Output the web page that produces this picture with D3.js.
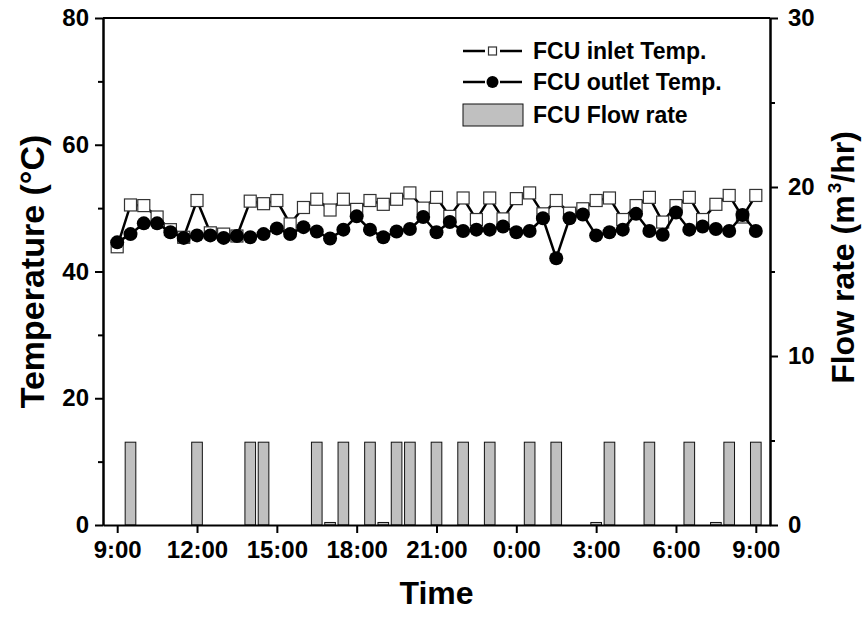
<!DOCTYPE html>
<html>
<head>
<meta charset="utf-8">
<script src="https://cdn.jsdelivr.net/npm/d3@7"></script>
<style>
  body { margin: 0; background: #fff; }
  text { font-family: "Liberation Sans", Arial, sans-serif; font-weight: bold; }
</style>
</head>
<body>
<div id="chart"></div>
<script>
// sampled every 30 min, 9:00 -> 9:00 next day
const times = ["9:00","9:30","10:00","10:30","11:00","11:30","12:00","12:30","13:00","13:30",
  "14:00","14:30","15:00","15:30","16:00","16:30","17:00","17:30","18:00","18:30",
  "19:00","19:30","20:00","20:30","21:00","21:30","22:00","22:30","23:00","23:30",
  "0:00","0:30","1:00","1:30","2:00","2:30","3:00","3:30","4:00","4:30",
  "5:00","5:30","6:00","6:30","7:00","7:30","8:00","8:30","9:00"];

const inletTemp = [43.9, 50.5, 50.4, 48.6, 46.6, 45.4, 51.2, 46.1, 45.9, 45.6,
  51.1, 50.7, 51.2, 47.5, 50.1, 51.4, 49.7, 51.4, 49.8, 51.2,
  50.6, 51.4, 52.4, 50.0, 51.7, 48.7, 51.6, 48.2, 51.6, 48.3,
  51.5, 52.4, 49.1, 51.2, 49.2, 49.9, 51.2, 51.6, 48.2, 50.4,
  51.7, 47.8, 50.4, 51.7, 48.2, 50.6, 52.0, 48.6, 52.0];

const outletTemp = [44.6, 45.9, 47.6, 47.6, 46.2, 45.3, 45.7, 45.7, 45.3, 45.6,
  45.4, 45.9, 46.8, 45.9, 47.0, 46.3, 45.2, 46.6, 48.7, 46.6,
  45.4, 46.3, 46.7, 48.6, 46.2, 47.8, 46.4, 46.6, 46.6, 47.1,
  46.2, 46.4, 48.4, 42.1, 48.4, 49.0, 45.7, 46.2, 46.6, 49.1,
  46.4, 45.8, 49.3, 46.6, 47.1, 46.7, 46.4, 48.9, 46.4];

const flowRate = [0, 4.9, 0, 0, 0, 0, 4.9, 0, 0, 0,
  4.9, 4.9, 0, 0, 0, 4.9, 0.15, 4.9, 0, 4.9,
  0.15, 4.9, 4.9, 0, 4.9, 0, 4.9, 0, 4.9, 0,
  0, 4.9, 0, 4.9, 0, 0, 0.15, 4.9, 0, 0,
  4.9, 0, 0, 4.9, 0, 0.15, 4.9, 0, 4.9];

const seriesNames = ["FCU inlet Temp.", "FCU outlet Temp.", "FCU Flow rate"];

const W = 862, H = 623;
const margin = { top: 18, right: 92, bottom: 98, left: 103 };
const innerW = W - margin.left - margin.right,
      innerH = H - margin.top - margin.bottom;

// turn "H:MM" strings into dates, rolling over midnight
let day = 0, prev = -1;
const data = times.map((t, i) => {
  const [h, m] = t.split(":").map(Number);
  const mins = h * 60 + m;
  if (mins <= prev) day++;
  prev = mins;
  return { date: new Date(2000, 0, 1 + day, h, m), inlet: inletTemp[i], outlet: outletTemp[i], flow: flowRate[i] };
});

const svg = d3.select("#chart").append("svg")
  .attr("width", W).attr("height", H)
  .append("g")
  .attr("transform", `translate(${margin.left},${margin.top})`);

const first = data[0].date, last = data[data.length - 1].date;
const x = d3.scaleTime()
  .domain([d3.timeMinute.offset(first, -32), d3.timeMinute.offset(last, 32)])
  .range([0, innerW]);
const y = d3.scaleLinear().domain([0, 80]).range([innerH, 0]);
const y2 = d3.scaleLinear().domain([0, 30]).range([innerH, 0]);

// bars (behind lines)
const barW = x(d3.timeMinute.offset(first, 24)) - x(first);
svg.selectAll(".bar")
  .data(data)
  .enter().append("rect")
  .attr("class", "bar")
  .attr("x", d => x(d.date) - barW / 2)
  .attr("y", d => y2(d.flow))
  .attr("width", barW)
  .attr("height", d => innerH - y2(d.flow))
  .attr("fill", "#c0c0c0")
  .attr("stroke", "#111")
  .attr("stroke-width", 1);

// axes
const tickFont = "24px";
const styleAxis = (g) => {
  g.select(".domain").attr("stroke", "#000").attr("stroke-width", 2);
  g.selectAll(".tick line").attr("stroke", "#000").attr("stroke-width", 2);
  g.selectAll(".tick text").style("font-size", tickFont).attr("fill", "#000");
};

svg.append("g")
  .attr("transform", `translate(0,${innerH})`)
  .call(d3.axisBottom(x).ticks(d3.timeHour.every(3)).tickFormat(d3.timeFormat("%-H:%M"))
    .tickSize(8).tickSizeOuter(0).tickPadding(8))
  .call(styleAxis);

// left axis, minor ticks every 10
svg.append("g")
  .call(d3.axisLeft(y).tickValues(d3.range(10, 80, 20)).tickSize(5).tickSizeOuter(0).tickFormat(""))
  .call(styleAxis);
svg.append("g")
  .call(d3.axisLeft(y).tickValues(d3.range(0, 81, 20)).tickSize(8).tickSizeOuter(0).tickPadding(6))
  .call(styleAxis);

// right axis, minor every 5
svg.append("g")
  .attr("transform", `translate(${innerW},0)`)
  .call(d3.axisRight(y2).tickValues([5, 15, 25]).tickSize(5).tickSizeOuter(0).tickFormat(""))
  .call(styleAxis);
svg.append("g")
  .attr("transform", `translate(${innerW},0)`)
  .call(d3.axisRight(y2).tickValues([0, 10, 20, 30]).tickSize(8).tickSizeOuter(0).tickPadding(10))
  .call(styleAxis);

// top frame line
svg.append("line")
  .attr("x1", 0).attr("x2", innerW).attr("y1", 0).attr("y2", 0)
  .attr("stroke", "#000").attr("stroke-width", 2);

// temperature lines
const lineIn = d3.line().x(d => x(d.date)).y(d => y(d.inlet));
const lineOut = d3.line().x(d => x(d.date)).y(d => y(d.outlet));

svg.append("path").datum(data)
  .attr("d", lineIn).attr("fill", "none").attr("stroke", "#000").attr("stroke-width", 2.5);
svg.selectAll(".sq")
  .data(data)
  .enter().append("rect")
  .attr("class", "sq")
  .attr("x", d => x(d.date) - 6)
  .attr("y", d => y(d.inlet) - 6)
  .attr("width", 12).attr("height", 12)
  .attr("fill", "#fff").attr("stroke", "#333").attr("stroke-width", 1.2);

svg.append("path").datum(data)
  .attr("d", lineOut).attr("fill", "none").attr("stroke", "#000").attr("stroke-width", 2.5);
svg.selectAll(".dot")
  .data(data)
  .enter().append("circle")
  .attr("class", "dot")
  .attr("cx", d => x(d.date))
  .attr("cy", d => y(d.outlet))
  .attr("r", 7)
  .attr("fill", "#000");

// axis titles
svg.append("text")
  .attr("x", innerW / 2).attr("y", innerH + 79)
  .attr("text-anchor", "middle").style("font-size", "32px")
  .text("Time");

svg.append("text")
  .attr("transform", `translate(${44 - margin.left},${innerH / 2}) rotate(-90)`)
  .attr("text-anchor", "middle").style("font-size", "34px")
  .text("Temperature (°C)");

const rt = svg.append("text")
  .attr("transform", `translate(${innerW + 84},${innerH / 2 - 14}) rotate(-90)`)
  .attr("text-anchor", "middle").style("font-size", "32px");
rt.append("tspan").text("Flow rate");
rt.append("tspan").attr("dx", 9).text("(m");
rt.append("tspan").attr("dx", 2).attr("dy", -13).style("font-size", "19px").text("3");
rt.append("tspan").attr("dy", 13).text("/hr)");

// legend
const lg = svg.append("g").attr("transform", `translate(${463 - margin.left},${51 - margin.top})`);
const rowH = 31;
[0, 1].forEach(i => {
  const r = lg.append("g").attr("transform", `translate(0,${i * rowH})`);
  r.append("line").attr("x1", 0).attr("x2", 22).attr("y1", 0).attr("y2", 0)
    .attr("stroke", "#000").attr("stroke-width", 2.5);
  r.append("line").attr("x1", 37).attr("x2", 59).attr("y1", 0).attr("y2", 0)
    .attr("stroke", "#000").attr("stroke-width", 2.5);
  if (i === 0) {
    r.append("rect").attr("x", 25.5).attr("y", -4).attr("width", 8).attr("height", 8)
      .attr("fill", "#fff").attr("stroke", "#333").attr("stroke-width", 1.2);
  } else {
    r.append("circle").attr("cx", 29.5).attr("cy", 0).attr("r", 6).attr("fill", "#000");
  }
  r.append("text").attr("x", 70).attr("y", 0).attr("dy", "0.35em")
    .style("font-size", "23px").text(seriesNames[i]);
});
const r3 = lg.append("g").attr("transform", `translate(0,${2 * rowH + 2})`);
r3.append("rect").attr("x", 0).attr("y", -11).attr("width", 60).attr("height", 22)
  .attr("fill", "#c0c0c0").attr("stroke", "#111").attr("stroke-width", 1);
r3.append("text").attr("x", 70).attr("y", 0).attr("dy", "0.35em")
  .style("font-size", "23px").text(seriesNames[2]);
</script>
</body>
</html>
